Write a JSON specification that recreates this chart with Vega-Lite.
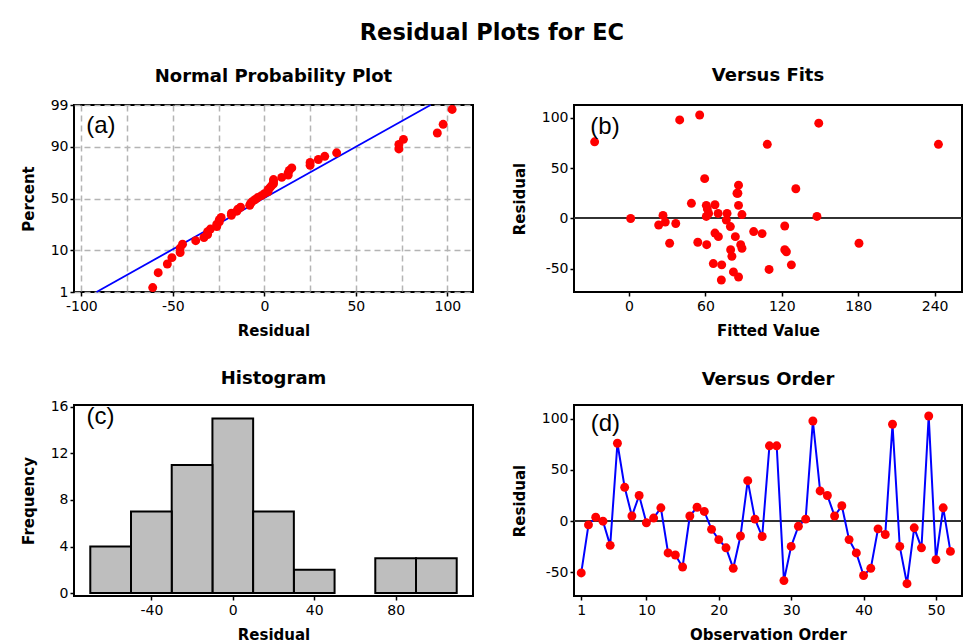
{
  "$schema": "https://vega.github.io/schema/vega-lite/v6.json",
  "background": "white",
  "padding": {"left": 20, "top": 21, "right": 8, "bottom": 2},
  "title": {"text": "Residual Plots for EC", "fontSize": 22.5, "font": "DejaVu Sans", "fontWeight": "bold", "color": "black", "anchor": "middle", "offset": 22},
  "datasets": {
    "res": [
      {"obs": 1, "residual": -50.5, "fitted": 110, "nscore": -1.471},
      {"obs": 2, "residual": -3.6, "fitted": 28.5, "nscore": 0.024},
      {"obs": 3, "residual": 3.9, "fitted": 88.7, "nscore": 0.316},
      {"obs": 4, "residual": 0, "fitted": 1.3, "nscore": 0.12},
      {"obs": 5, "residual": -23.6, "fitted": 54, "nscore": -0.471},
      {"obs": 6, "residual": 76, "fitted": -27, "nscore": 1.471},
      {"obs": 7, "residual": 33, "fitted": 86, "nscore": 1.05},
      {"obs": 8, "residual": 5, "fitted": 77, "nscore": 0.367},
      {"obs": 9, "residual": 25, "fitted": 84.8, "nscore": 0.827},
      {"obs": 10, "residual": -1.6, "fitted": 76.4, "nscore": 0.072},
      {"obs": 11, "residual": 3, "fitted": 26.7, "nscore": 0.266},
      {"obs": 12, "residual": 13, "fitted": 60.7, "nscore": 0.581},
      {"obs": 13, "residual": -31, "fitted": 79.8, "nscore": -0.896},
      {"obs": 14, "residual": -33, "fitted": 123.6, "nscore": -0.97},
      {"obs": 15, "residual": -44.7, "fitted": 66.2, "nscore": -1.137},
      {"obs": 16, "residual": 5, "fitted": 62.5, "nscore": 0.418},
      {"obs": 17, "residual": 13.6, "fitted": 67.5, "nscore": 0.699},
      {"obs": 18, "residual": 9.5, "fitted": 61.5, "nscore": 0.525},
      {"obs": 19, "residual": -8, "fitted": 79.6, "nscore": -0.168},
      {"obs": 20, "residual": -18, "fitted": 70.2, "nscore": -0.418},
      {"obs": 21, "residual": -26, "fitted": 61, "nscore": -0.699},
      {"obs": 22, "residual": -46, "fitted": 72.8, "nscore": -1.343},
      {"obs": 23, "residual": -14.5, "fitted": 67.5, "nscore": -0.266},
      {"obs": 24, "residual": 39.5, "fitted": 59.4, "nscore": 1.137},
      {"obs": 25, "residual": 2, "fitted": 60.7, "nscore": 0.168},
      {"obs": 26, "residual": -15, "fitted": 104.5, "nscore": -0.316},
      {"obs": 27, "residual": 73.5, "fitted": 108.6, "nscore": 1.233},
      {"obs": 28, "residual": 73.5, "fitted": 243, "nscore": 1.343},
      {"obs": 29, "residual": -58, "fitted": 86, "nscore": -1.846},
      {"obs": 30, "residual": -24.6, "fitted": 31.9, "nscore": -0.581},
      {"obs": 31, "residual": -5, "fitted": 36.7, "nscore": -0.024},
      {"obs": 32, "residual": 2, "fitted": 147.6, "nscore": 0.217},
      {"obs": 33, "residual": 97.7, "fitted": 39.8, "nscore": 1.846},
      {"obs": 34, "residual": 29.5, "fitted": 131, "nscore": 0.97},
      {"obs": 35, "residual": 25, "fitted": 85.5, "nscore": 0.896},
      {"obs": 36, "residual": 5, "fitted": 70, "nscore": 0.471},
      {"obs": 37, "residual": 15, "fitted": 49, "nscore": 0.761},
      {"obs": 38, "residual": -18, "fitted": 83.5, "nscore": -0.367},
      {"obs": 39, "residual": -31, "fitted": 122.3, "nscore": -0.827},
      {"obs": 40, "residual": -53, "fitted": 82, "nscore": -1.63},
      {"obs": 41, "residual": -46, "fitted": 127.5, "nscore": -1.233},
      {"obs": 42, "residual": -7.5, "fitted": 122.3, "nscore": -0.12},
      {"obs": 43, "residual": -13, "fitted": 97.9, "nscore": -0.217},
      {"obs": 44, "residual": 94.5, "fitted": 149, "nscore": 1.63},
      {"obs": 45, "residual": -24.6, "fitted": 180.6, "nscore": -0.525},
      {"obs": 46, "residual": -61, "fitted": 72.5, "nscore": -2.216},
      {"obs": 47, "residual": -6.5, "fitted": 23.3, "nscore": -0.072},
      {"obs": 48, "residual": -26, "fitted": 87.7, "nscore": -0.639},
      {"obs": 49, "residual": 102.6, "fitted": 55.5, "nscore": 2.216},
      {"obs": 50, "residual": -37.5, "fitted": 80.8, "nscore": -1.05},
      {"obs": 51, "residual": 13, "fitted": 86, "nscore": 0.639},
      {"obs": 52, "residual": -29.5, "fitted": 88.7, "nscore": -0.761}
    ],
    "fit": [
      {"x": -91.7, "z": -2.326},
      {"x": 90.8, "z": 2.326}
    ]
  },
  "columns": 2,
  "bounds": "flush",
  "align": "each",
  "spacing": {"column": 101, "row": 113},
  "concat": [
    {
      "width": 399,
      "height": 187,
      "title": {"text": "Normal Probability Plot", "offset": 12},
      "layer": [
        {
          "data": {"name": "fit"},
          "mark": {"type": "line", "color": "#0000ff", "strokeWidth": 1.8},
          "encoding": {
            "x": {"field": "x", "type": "quantitative"},
            "y": {"field": "z", "type": "quantitative"}
          }
        },
        {
          "data": {"name": "res"},
          "mark": {"type": "circle", "color": "#ff0000", "opacity": 1, "size": 80},
          "encoding": {
            "x": {
              "field": "residual", "type": "quantitative",
              "scale": {"domain": [-104, 114], "nice": false, "zero": false},
              "axis": {
                "title": "Residual",
                "values": [-100, -75, -50, -25, 0, 25, 50, 75, 100],
                "grid": true, "gridDash": [6, 4], "gridColor": "#b4b4b4", "gridWidth": 1.5,
                "labelExpr": "datum.value % 50 === 0 ? '' + datum.value : ''",
                "tickOpacity": {"condition": {"test": "datum.value % 50 === 0", "value": 1}, "value": 0}
              }
            },
            "y": {
              "field": "nscore", "type": "quantitative",
              "scale": {"domain": [-2.326, 2.326], "nice": false, "zero": false},
              "axis": {
                "title": "Percent",
                "values": [-2.326, -1.2816, 0, 1.2816, 2.326],
                "grid": true, "gridDash": [6, 4], "gridColor": "#b4b4b4", "gridWidth": 1.5,
                "labelExpr": "datum.value < -2 ? '1' : datum.value < -1 ? '10' : datum.value < 1 ? '50' : datum.value < 2 ? '90' : '99'"
              }
            }
          }
        },
        {
          "data": {"values": [{"label": "(a)"}]},
          "mark": {"type": "text", "fontSize": 24, "font": "Liberation Sans", "align": "left", "baseline": "middle", "color": "black"},
          "encoding": {
            "x": {"datum": -97.3},
            "y": {"datum": 1.8},
            "text": {"field": "label"}
          }
        }
      ]
    },
    {
      "width": 388,
      "height": 187,
      "title": {"text": "Versus Fits", "offset": 20},
      "layer": [
        {
          "data": {"name": "res"},
          "mark": {"type": "rule", "color": "#333333", "strokeWidth": 1.3},
          "encoding": {"y": {"datum": 0}}
        },
        {
          "data": {"name": "res"},
          "mark": {"type": "circle", "color": "#ff0000", "opacity": 1, "size": 80},
          "encoding": {
            "x": {
              "field": "fitted", "type": "quantitative",
              "scale": {"domain": [-43.2, 261.5], "nice": false, "zero": false},
              "axis": {"title": "Fitted Value", "values": [0, 60, 120, 180, 240], "labelExpr": "'' + datum.value"}
            },
            "y": {
              "field": "residual", "type": "quantitative",
              "scale": {"domain": [-72.9, 112.5], "nice": false, "zero": false},
              "axis": {"title": "Residual", "values": [-50, 0, 50, 100], "labelExpr": "'' + datum.value"}
            }
          }
        },
        {
          "data": {"values": [{"label": "(b)"}]},
          "mark": {"type": "text", "fontSize": 24, "font": "Liberation Sans", "align": "left", "baseline": "middle", "color": "black"},
          "encoding": {
            "x": {"datum": -30.4},
            "y": {"datum": 91},
            "text": {"field": "label"}
          }
        }
      ]
    },
    {
      "width": 399,
      "height": 191,
      "title": {"text": "Histogram", "offset": 12},
      "layer": [
        {
          "data": {"name": "res"},
          "transform": [
            {"bin": {"extent": [-70, 110], "step": 20, "nice": false}, "field": "residual", "as": "b0"},
            {"aggregate": [{"op": "count", "as": "n"}], "groupby": ["b0", "b0_end"]}
          ],
          "mark": {"type": "bar", "fill": "#bebebe", "stroke": "black", "strokeWidth": 2, "opacity": 1},
          "encoding": {
            "x": {
              "field": "b0", "type": "quantitative",
              "scale": {"domain": [-78, 118], "nice": false, "zero": false},
              "axis": {"title": "Residual", "values": [-40, 0, 40, 80], "labelExpr": "'' + datum.value"}
            },
            "x2": {"field": "b0_end"},
            "y": {
              "field": "n", "type": "quantitative",
              "scale": {"domain": [-0.25, 16.15], "nice": false},
              "axis": {"title": "Frequency", "values": [0, 4, 8, 12, 16]}
            },
            "y2": {"datum": 0}
          }
        },
        {
          "data": {"values": [{"label": "(c)"}]},
          "mark": {"type": "text", "fontSize": 24, "font": "Liberation Sans", "align": "left", "baseline": "middle", "color": "black"},
          "encoding": {
            "x": {"datum": -71.9},
            "y": {"datum": 15.1},
            "text": {"field": "label"}
          }
        }
      ]
    },
    {
      "width": 388,
      "height": 191,
      "title": {"text": "Versus Order", "offset": 16},
      "layer": [
        {
          "data": {"name": "res"},
          "mark": {"type": "rule", "color": "#333333", "strokeWidth": 1.3},
          "encoding": {"y": {"datum": 0}}
        },
        {
          "data": {"name": "res"},
          "mark": {"type": "line", "color": "#0000ff", "strokeWidth": 2},
          "encoding": {
            "x": {
              "field": "obs", "type": "quantitative",
              "scale": {"domain": [0, 53.6], "nice": false, "zero": false},
              "axis": {"title": "Observation Order", "values": [1, 5, 10, 15, 20, 25, 30, 35, 40, 45, 50]}
            },
            "y": {
              "field": "residual", "type": "quantitative",
              "scale": {"domain": [-73, 113.3], "nice": false, "zero": false},
              "axis": {"title": "Residual", "values": [-50, 0, 50, 100], "labelExpr": "'' + datum.value"}
            }
          }
        },
        {
          "data": {"name": "res"},
          "mark": {"type": "circle", "color": "#ff0000", "opacity": 1, "size": 80},
          "encoding": {
            "x": {"field": "obs", "type": "quantitative"},
            "y": {"field": "residual", "type": "quantitative"}
          }
        },
        {
          "data": {"values": [{"label": "(d)"}]},
          "mark": {"type": "text", "fontSize": 24, "font": "Liberation Sans", "align": "left", "baseline": "middle", "color": "black"},
          "encoding": {
            "x": {"datum": 2.3},
            "y": {"datum": 94.6},
            "text": {"field": "label"}
          }
        }
      ]
    }
  ],
  "config": {
    "view": {"stroke": "black", "strokeWidth": 2},
    "font": "DejaVu Sans",
    "axis": {
      "domain": false,
      "grid": false,
      "tickColor": "black",
      "tickSize": 4,
      "tickWidth": 1.5,
      "labelColor": "black",
      "labelFontSize": 14,
      "labelFont": "DejaVu Sans",
      "labelPadding": 2,
      "titleFontSize": 15,
      "titleFontWeight": "bold",
      "titleColor": "black",
      "titleFont": "DejaVu Sans"
    },
    "axisX": {"titlePadding": 10, "labelPadding": 3},
    "axisY": {"titlePadding": 14},
    "title": {"fontSize": 18, "fontWeight": "bold", "color": "black", "font": "DejaVu Sans"}
  }
}
